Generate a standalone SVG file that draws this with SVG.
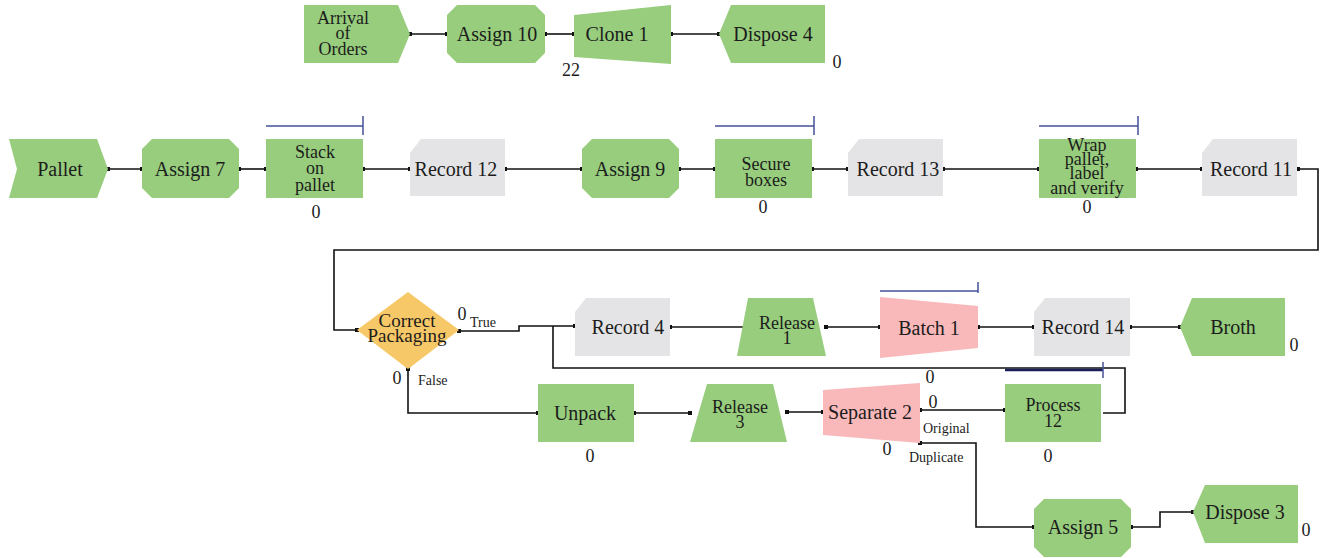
<svg xmlns="http://www.w3.org/2000/svg" width="1320" height="558" viewBox="0 0 1320 558" font-family="'Liberation Serif', 'DejaVu Serif', serif">
<style>
.g{fill:#97CD7D}
.r{fill:#E4E4E6}
.p{fill:#F9B9BA}
.d{fill:#F7C867}
text{fill:#1c1c1c}
.t{font-size:20px;text-anchor:middle}
.m{font-size:18px;text-anchor:middle}
.s{font-size:14px}
.n{font-size:18px;text-anchor:middle}
.c{fill:none;stroke:#111;stroke-width:1.6;marker-start:url(#sq);marker-end:url(#sq)}
.lp{fill:none;stroke:#111;stroke-width:1.6}
.q{fill:none;stroke:#46509A;stroke-width:1.5}
</style>
<defs>
<marker id="sq" viewBox="0 0 4 4" refX="2" refY="2" markerWidth="4" markerHeight="4" markerUnits="userSpaceOnUse"><rect width="4" height="4" fill="#111"/></marker>
</defs>
<rect width="1320" height="558" fill="#fff"/>

<g id="connectors">
<path class="c" d="M410,34H447"/>
<path class="c" d="M545,34H574"/>
<path class="c" d="M671,34H719"/>
<path class="c" d="M108,169H142"/>
<path class="c" d="M239,169H266"/>
<path class="c" d="M363,169H410"/>
<path class="c" d="M505,169H582"/>
<path class="c" d="M679,169H715"/>
<path class="c" d="M812,169H848"/>
<path class="c" d="M943,169H1039"/>
<path class="c" d="M1136,169H1202"/>
<path class="c" d="M1298,169H1318V250H334V330H357"/>
<path class="c" d="M459,331H519V326H575"/>
<path class="lp" d="M553,326V368H1125V413H1103"/>
<path class="c" d="M408,369V413H538"/>
<path class="c" d="M670,327H747"/>
<path class="c" d="M826,327H880"/>
<path class="c" d="M978,327H1034"/>
<path class="c" d="M1130,327H1180"/>
<path class="c" d="M634,413H690"/>
<path class="c" d="M787,412H823"/>
<path class="c" d="M920,410H1005"/>
<path class="c" d="M920,443H976V527H1034"/>
<path class="c" d="M1131,527H1160V512H1193"/>
</g>

<g id="arrival-of-orders">
<polygon class="g" points="304,5 398,5 410,34 398,63 304,63"/>
<text class="m"><tspan x="343" y="24">Arrival</tspan><tspan x="343" y="39">of</tspan><tspan x="343" y="55">Orders</tspan></text>
</g>
<g id="assign-10">
<polygon class="g" points="457,5 535,5 545,15 545,53 535,63 457,63 447,53 447,15"/>
<text class="t" x="497" y="41">Assign 10</text>
</g>
<g id="clone-1">
<polygon class="g" points="574,15 671,5 671,64 574,57"/>
<text class="t" x="617" y="41">Clone 1</text>
<text class="n" x="571" y="76">22</text>
</g>
<g id="dispose-4">
<polygon class="g" points="731,5 825,5 825,63 731,63 719,34"/>
<text class="t" x="773" y="41">Dispose 4</text>
<text class="n" x="837" y="68">0</text>
</g>

<g id="pallet">
<polygon class="g" points="9,139 97,139 108,169 97,198 9,198 17,169"/>
<text class="t" x="60" y="176">Pallet</text>
</g>
<g id="assign-7">
<polygon class="g" points="152,139 229,139 239,149 239,188 229,198 152,198 142,188 142,149"/>
<text class="t" x="190" y="176">Assign 7</text>
</g>
<g id="stack-on-pallet">
<path class="q" d="M266,126H363M363,116V135"/>
<rect class="g" x="266" y="139" width="97" height="59"/>
<text class="m"><tspan x="315" y="158">Stack</tspan><tspan x="315" y="174">on</tspan><tspan x="315" y="191">pallet</tspan></text>
<text class="n" x="316" y="218">0</text>
</g>
<g id="record-12">
<polygon class="r" points="410,153 421,139 505,139 505,196 410,196"/>
<text class="t" x="456" y="176">Record 12</text>
</g>
<g id="assign-9">
<polygon class="g" points="592,139 669,139 679,149 679,188 669,198 592,198 582,188 582,149"/>
<text class="t" x="630" y="176">Assign 9</text>
</g>
<g id="secure-boxes">
<path class="q" d="M715,126H814M814,116V135"/>
<rect class="g" x="715" y="139" width="97" height="59"/>
<text class="m"><tspan x="766" y="170">Secure</tspan><tspan x="766" y="186">boxes</tspan></text>
<text class="n" x="763" y="213">0</text>
</g>
<g id="record-13">
<polygon class="r" points="848,153 859,139 943,139 943,196 848,196"/>
<text class="t" x="898" y="176">Record 13</text>
</g>
<g id="wrap-pallet">
<path class="q" d="M1039,126H1138M1138,116V135"/>
<rect class="g" x="1039" y="139" width="97" height="59"/>
<text class="m"><tspan x="1087" y="151">Wrap</tspan><tspan x="1087" y="165">pallet,</tspan><tspan x="1087" y="179">label</tspan><tspan x="1087" y="194">and verify</tspan></text>
<text class="n" x="1087" y="213">0</text>
</g>
<g id="record-11">
<polygon class="r" points="1202,153 1213,139 1297,139 1297,196 1202,196"/>
<text class="t" x="1251" y="176">Record 11</text>
</g>

<g id="correct-packaging">
<polygon class="d" points="357,330 408,292 459,330 408,369"/>
<text class="m" style="font-size:19px"><tspan x="407" y="327">Correct</tspan><tspan x="407" y="342">Packaging</tspan></text>
<text class="n" x="462" y="320">0</text>
<text class="s" x="470" y="327">True</text>
<text class="n" x="397" y="384">0</text>
<text class="s" x="418" y="385">False</text>
</g>
<g id="record-4">
<polygon class="r" points="575,312 586,298 670,298 670,356 575,356"/>
<text class="t" x="628" y="334">Record 4</text>
</g>
<g id="release-1">
<polygon class="g" points="748,298 813,298 826,356 737,356"/>
<text class="m"><tspan x="787" y="329">Release</tspan><tspan x="787" y="344">1</tspan></text>
</g>
<g id="batch-1">
<path class="q" d="M880,291H978M978,282V293"/>
<polygon class="p" points="880,297 978,306 978,348 880,358"/>
<text class="t" x="929" y="335">Batch 1</text>
</g>
<g id="record-14">
<polygon class="r" points="1034,312 1045,298 1130,298 1130,356 1034,356"/>
<text class="t" x="1083" y="334">Record 14</text>
</g>
<g id="broth">
<polygon class="g" points="1192,298 1285,298 1285,356 1192,356 1180,327"/>
<text class="t" x="1233" y="334">Broth</text>
<text class="n" x="1294" y="351">0</text>
</g>

<g id="unpack">
<rect class="g" x="538" y="384" width="96" height="58"/>
<text class="t" x="585" y="420">Unpack</text>
<text class="n" x="590" y="462">0</text>
</g>
<g id="release-3">
<polygon class="g" points="707,384 773,384 787,442 690,442"/>
<text class="m"><tspan x="740" y="413">Release</tspan><tspan x="740" y="428">3</tspan></text>
</g>
<g id="separate-2">
<polygon class="p" points="823,390 920,383 920,443 823,435"/>
<text class="t" x="870" y="419">Separate 2</text>
<text class="n" x="930" y="383">0</text>
<text class="n" x="933" y="408">0</text>
<text class="n" x="887" y="455">0</text>
<text class="s" x="923" y="433">Original</text>
<text class="s" x="909" y="462">Duplicate</text>
</g>
<g id="process-12">
<path d="M1005,370H1103" fill="none" stroke="#1a1f5a" stroke-width="2.5"/>
<path class="q" d="M1103,362V378"/>
<rect class="g" x="1005" y="384" width="96" height="58"/>
<text class="m"><tspan x="1053" y="411">Process</tspan><tspan x="1053" y="427">12</tspan></text>
<text class="n" x="1048" y="462">0</text>
</g>
<g id="assign-5">
<polygon class="g" points="1044,499 1121,499 1131,509 1131,547 1121,557 1044,557 1034,547 1034,509"/>
<text class="t" x="1083" y="534">Assign 5</text>
</g>
<g id="dispose-3">
<polygon class="g" points="1205,485 1298,485 1298,543 1205,543 1193,512"/>
<text class="t" x="1245" y="519">Dispose 3</text>
<text class="n" x="1306" y="536">0</text>
</g>
</svg>
